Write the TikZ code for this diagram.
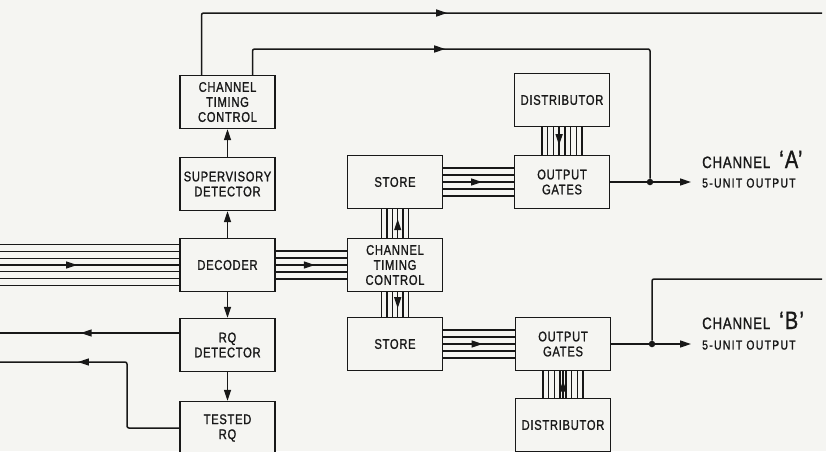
\documentclass[tikz,border=0pt]{standalone}
\usepackage{fontspec}
\setmainfont{Liberation Sans}[FakeStretch=0.8,LetterSpace=5,FakeBold=1.2]
\usepackage{tikz}
\usetikzlibrary{
  arrows.meta,
  decorations.markings
}
\definecolor{ink}{RGB}{24,24,24}
\definecolor{paper}{RGB}{245,245,242}
\tikzset{
  unit/.style={draw=ink,line width=1.3pt,fill=paper,align=center,
    minimum width=95pt,minimum height=53pt,inner sep=1.5pt,text=ink,
    font=\fontsize{14}{15}\selectfont},
  sig/.style={line width=1.5pt,draw=ink},
  sigflow/.style={sig,-{Triangle[length=11pt,width=7pt]}},
  bus/.style={line width=1.3pt,draw=ink},
  midarrow/.style={postaction={decorate},decoration={markings,
    mark=at position #1 with {\arrow{Triangle[length=11pt,width=7pt]}}}},
  midarrow/.default=0.5,
  dot/.style={circle,fill=ink,inner sep=0pt,minimum size=6.5pt},
  outlab/.style={text=ink,inner xsep=11pt,inner ysep=0pt,
    font=\fontsize{13}{14}\selectfont\addfontfeatures{LetterSpace=10}},
  chlab/.style={text=ink,inner sep=0pt,font=\fontsize{16.5}{18}\selectfont}
}
\newcommand{\bigA}{\fontsize{25}{25}\selectfont}

\begin{document}
\begin{tikzpicture}[x=1pt,y=-1pt]
  \clip (0,0) rectangle (826,451);
  \fill[paper] (0,0) rectangle (826,451);
  % receive side
  \node[unit] (ctc) at (227.5,102) {CHANNEL\\TIMING\\CONTROL};
  \node[unit] (sup) at (227.5,184) {SUPERVISORY\\DETECTOR};
  \node[unit] (dec) at (227.5,265) {DECODER};
  \node[unit] (rq) at (227.5,345) {RQ\\DETECTOR};
  \node[unit] (trq) at (227.5,428) {TESTED\\RQ};
  % stores
  \node[unit] (stA) at (395,182) {STORE};
  \node[unit] (tcc) at (395,265) {CHANNEL\\TIMING\\CONTROL};
  \node[unit] (stB) at (395,344) {STORE};
  % output side
  \node[unit] (distA) at (562,100) {DISTRIBUTOR};
  \node[unit] (ogA) at (562,182) {OUTPUT\\GATES};
  \node[unit] (ogB) at (563,344) {OUTPUT\\GATES};
  \node[unit] (distB) at (563,425) {DISTRIBUTOR};
  \node[outlab,anchor=west] (unitA) at (691,183) {5-UNIT OUTPUT};
  \node[chlab,anchor=base west] (chanA) at (702,168) {CHANNEL\ \ {\bigA `A'}};
  \node[outlab,anchor=west] (unitB) at (691,345) {5-UNIT OUTPUT};
  \node[chlab,anchor=base west] (chanB) at (702,329) {CHANNEL\ \ {\bigA `B'}};
  \node[dot] (jA) at (650,182) {};
  \node[dot] (jB) at (652,344) {};
  \coordinate (inD) at (0,265);
  \coordinate (outR) at (0,333);
  \coordinate (outT) at (0,362);
  \coordinate (bendT) at (127,362);
  \coordinate (topEnd) at (822,13);
  \coordinate (bendA) at (650,49);
  \coordinate (bendB) at (652,279);
  \coordinate (outB) at (822,279);

  % single lines
  \draw[sigflow] (dec) -- (sup);
  \draw[sigflow] (sup) -- (ctc);
  \draw[sigflow] (dec) -- (rq);
  \draw[sigflow] (rq) -- (trq);
  \draw[sig,midarrow=0.55] ([yshift=12]rq.west) -- (outR);
  \draw[sig,rounded corners=2pt,midarrow=0.68] (trq.west) -| (bendT) -- (outT);
  \draw[sig,rounded corners=2pt,midarrow=0.45] ([xshift=-26]ctc.north) |- (topEnd);
  \draw[sig,rounded corners=2pt,midarrow=0.395] ([xshift=25]ctc.north) |- (bendA) -- (jA);
  \draw[sig] (ogA) -- (jA);
  \draw[sigflow] (jA) -- (unitA.west |- jA);
  \draw[sig] (ogB) -- (jB);
  \draw[sig,rounded corners=2pt] (jB) -- (bendB) -- (outB);
  \draw[sigflow] (jB) -- (unitB.west |- jB);

  % bundles
  \foreach \d in {-20.4,-13.6,-6.8,0,6.8,13.6,20.4}
    \draw[bus] ([yshift=\d]inD) -- ([yshift=\d]dec.west);
  \draw[bus,midarrow=0.43] (inD) -- (dec.west);
  \foreach \d in {-14,-7,0,7,14} {
    \draw[bus] ([yshift=\d]dec.east) -- ([yshift=\d]tcc.west);
    \draw[bus] ([yshift=\d]stA.east) -- ([yshift=\d]ogA.west);
    \draw[bus] ([yshift=\d]stB.east) -- ([yshift=\d]ogB.west);
  }
  \draw[bus,midarrow=0.55] (dec.east) -- (tcc.west);
  \draw[bus,midarrow=0.55] (stA.east) -- (ogA.west);
  \draw[bus,midarrow=0.55] (stB.east) -- (ogB.west);
  \foreach \d in {-13.5,-8,-2.7,2.7,8,13.5} {
    \draw[bus] ([xshift=\d]tcc.north) -- ([xshift=\d]stA.south);
    \draw[bus] ([xshift=\d]tcc.south) -- ([xshift=\d]stB.north);
  }
  \draw[bus,midarrow=0.65] ([xshift=2.7]tcc.north) -- ([xshift=2.7]stA.south);
  \draw[bus,midarrow=0.65] ([xshift=2.7]tcc.south) -- ([xshift=2.7]stB.north);
  \foreach \d in {-20,-14.3,-8.6,-2.9,2.9,8.6,14.3,20} {
    \draw[bus] ([xshift=\d]distA.south) -- ([xshift=\d]ogA.north);
    \draw[bus] ([xshift=\d]distB.north) -- ([xshift=\d]ogB.south);
  }
  \draw[bus,midarrow=0.65] ([xshift=-2.9]distA.south) -- ([xshift=-2.9]ogA.north);
  \draw[bus,midarrow=0.65] (distB.north) -- (ogB.south);
\end{tikzpicture}
\end{document}
